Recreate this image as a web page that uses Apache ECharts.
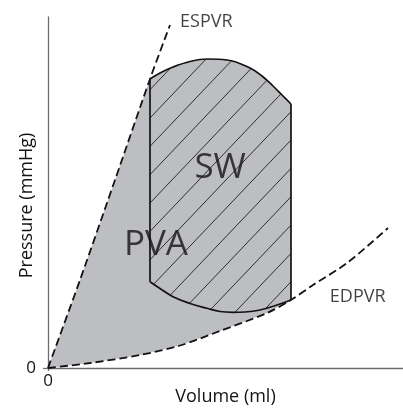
<!DOCTYPE html>
<html><head><meta charset="utf-8">
<script src="https://cdn.jsdelivr.net/npm/echarts@6/dist/echarts.min.js"></script>
<style>html,body{margin:0;padding:0;background:#fff}#c{width:403px;height:408px}</style>
</head><body><div id="c"></div>
<script>
// ---- data (volume in arbitrary ml units, pressure in arbitrary mmHg units) ----
const espvr = [[0,0],[9.01,25.07],[18.87,53.56],[28.73,82.34],[34.37,97.72]];
const edpvr = [[0,0],[11.83,1.42],[25.92,3.70],[37.18,6.41],[48.45,10.55],[61.69,15.67],[68.45,19.37],[74.65,23.65],[84.23,29.91],[95.77,39.89]];
// loop top (left -> right, ejection)
const loopTop = [[28.73,82.34],[31.55,84.05],[35.21,85.75],[40.00,87.32],[44.79,88.03],[50.42,87.75],[56.90,85.47],[60.28,83.19],[63.38,80.34],[65.92,77.78],[68.45,75.21]];
// loop bottom (right -> left, filling)
const loopBottom = [[68.45,19.37],[65.35,18.23],[59.72,16.52],[55.49,15.95],[52.11,15.87],[48.45,16.10],[44.79,17.01],[40.00,18.38],[35.21,20.31],[31.55,22.65],[28.73,24.59]];
const annotations = [
  {name:'ESPVR', value:[37.2,98.6]},
  {name:'EDPVR', value:[79.4,20.2]},
  {name:'SW', value:[48.5,57.0]},
  {name:'PVA', value:[30.4,35.0]}
];
const xTickValues = [0];
const yTickValues = [0];

// ---- derived shapes ----
const loopLeftEdge = [loopBottom[loopBottom.length-1], loopTop[0]];
const loopRightEdge = [loopTop[loopTop.length-1], loopBottom[0]];
const xL = loopTop[0][0], xR = loopRightEdge[0][0];
const pvaPoly = espvr.filter(p => p[0] < xL)
  .concat(loopTop)
  .concat(edpvr.filter(p => p[0] <= xR).slice().reverse());
const swPoly = loopTop.concat(loopBottom);

// hatch style (decoration): slope and spacing in screen pixels
const HATCH_SLOPE = 1.05, HATCH_STEP = 27, HATCH_PHASE = 559;

const FONT = "'Open Sans', 'Noto Sans', sans-serif";
const INK = '#141213';
const dash = {color: INK, width: 1.8, type: [8, 4]};
const solid = {color: INK, width: 1.7};

function hatchItem(params, api) {
  const pts = swPoly.map(d => api.coord(d));
  const f = p => p[1] + HATCH_SLOPE * p[0];
  const vals = pts.map(f);
  const lo = Math.min(...vals), hi = Math.max(...vals);
  const dc = HATCH_SLOPE * HATCH_STEP;
  const kStart = Math.ceil((lo - HATCH_PHASE) / dc), kEnd = Math.floor((hi - HATCH_PHASE) / dc);
  const children = [];
  for (let k = kStart; k <= kEnd; k++) {
    const c = HATCH_PHASE + k * dc;
    const hits = [];
    for (let i = 0; i < pts.length; i++) {
      const a = pts[i], b = pts[(i + 1) % pts.length];
      const fa = f(a) - c, fb = f(b) - c;
      if ((fa <= 0 && fb > 0) || (fa > 0 && fb <= 0)) {
        const t = fa / (fa - fb);
        hits.push([a[0] + t * (b[0] - a[0]), a[1] + t * (b[1] - a[1])]);
      }
    }
    hits.sort((p, q) => p[0] - q[0]);
    for (let j = 0; j + 1 < hits.length; j += 2) {
      children.push({type: 'line', shape: {x1: hits[j][0], y1: hits[j][1], x2: hits[j+1][0], y2: hits[j+1][1]},
        style: {stroke: '#1e1e1e', lineWidth: 0.9}});
    }
  }
  return {type: 'group', children: [
    {type: 'polygon', shape: {points: pts}, style: {fill: '#bdbec1'}}
  ].concat(children)};
}

const chart = echarts.init(document.getElementById('c'));
chart.setOption({
  animation: false,
  backgroundColor: '#fff',
  grid: {left: 48, right: 0, top: 17, bottom: 40, containLabel: false, outerBoundsMode: 'none'},
  xAxis: {
    type: 'value', min: 0, max: 100,
    axisLine: {show: true, onZero: false, lineStyle: {color: '#6d6d6d', width: 1.3}},
    axisTick: {show: true, customValues: xTickValues, length: 3, lineStyle: {color: '#6d6d6d', width: 1.3}},
    axisLabel: {customValues: xTickValues, fontSize: 17, color: INK, fontFamily: FONT, margin: 5},
    splitLine: {show: false},
    name: 'Volume (ml)', nameLocation: 'middle', nameGap: 20, nameMoveOverlap: false,
    nameTextStyle: {fontSize: 18, color: INK, fontFamily: FONT}
  },
  yAxis: {
    type: 'value', min: 0, max: 100,
    axisLine: {show: true, onZero: false, lineStyle: {color: '#6d6d6d', width: 1.3}},
    axisTick: {show: true, customValues: yTickValues, length: 5, lineStyle: {color: '#6d6d6d', width: 1.3}},
    axisLabel: {customValues: yTickValues, fontSize: 17, color: INK, fontFamily: FONT, margin: 12},
    splitLine: {show: false},
    name: 'Pressure (mmHg)', nameLocation: 'middle', nameGap: 12, nameMoveOverlap: false,
    nameTextStyle: {fontSize: 18, color: INK, fontFamily: FONT, padding: [0, 26, 0, 0]}
  },
  series: [
    {type: 'custom', coordinateSystem: 'cartesian2d', data: [[0,0]], z: 1, silent: true,
     renderItem: (p, api) => ({type: 'polygon', shape: {points: pvaPoly.map(d => api.coord(d))}, style: {fill: '#bdbec1'}})},
    {type: 'custom', coordinateSystem: 'cartesian2d', data: [[0,0]], z: 2, silent: true, renderItem: hatchItem},
    {type: 'line', data: loopTop, smooth: 0.4, symbol: 'none', lineStyle: solid, z: 3, silent: true},
    {type: 'line', data: loopBottom, smooth: 0.4, symbol: 'none', lineStyle: solid, z: 3, silent: true},
    {type: 'line', data: loopLeftEdge, symbol: 'none', lineStyle: solid, z: 3, silent: true},
    {type: 'line', data: loopRightEdge, symbol: 'none', lineStyle: solid, z: 3, silent: true},
    {type: 'line', data: espvr, smooth: 0.3, symbol: 'none', lineStyle: dash, z: 4, silent: true},
    {type: 'line', data: edpvr, smooth: 0.3, symbol: 'none', lineStyle: dash, z: 4, silent: true},
    {type: 'scatter', symbolSize: 0, z: 5, silent: true,
     data: annotations.map((a, i) => ({
       name: a.name, value: a.value,
       label: {show: true, formatter: '{b}', color: INK, fontFamily: FONT,
               position: i < 2 ? 'right' : 'inside', distance: 0,
               align: i < 2 ? 'left' : 'center', verticalAlign: 'middle',
               fontSize: i < 2 ? 18 : 35}
     }))}
  ]
});
</script>
</body></html>
